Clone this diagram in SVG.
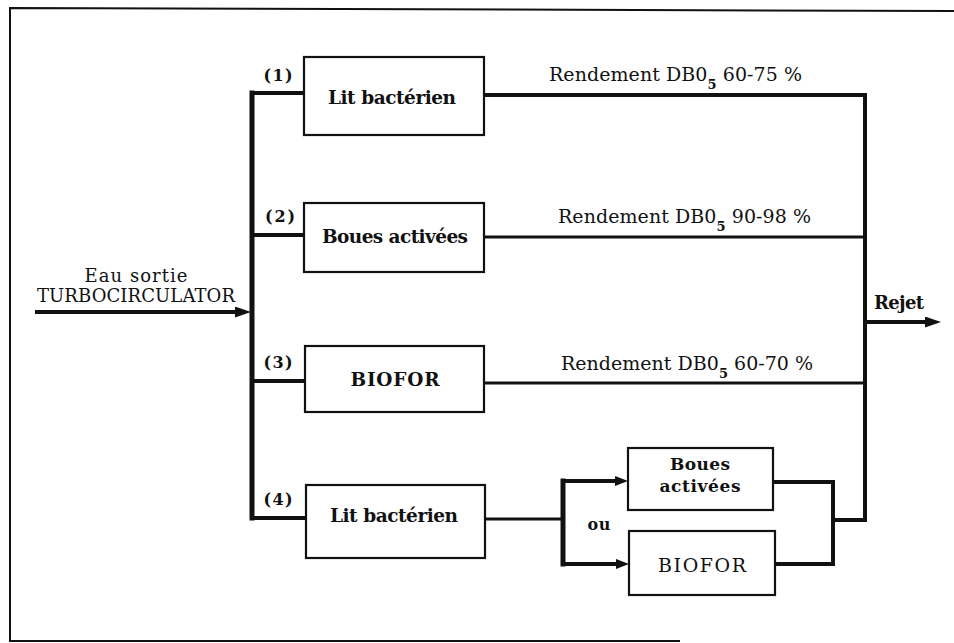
<svg xmlns="http://www.w3.org/2000/svg" width="954" height="643" viewBox="0 0 954 643">
  <style>
    .frame { fill: none; stroke: #111; stroke-width: 2; }
    .box { fill: #fff; stroke: #111; stroke-width: 2.2; }
    .wire { fill: none; stroke: #111; stroke-width: 4; stroke-linecap: square; }
    .thin { stroke-width: 3.2; }
    text { font-family: "DejaVu Serif", "Liberation Serif", serif; fill: #111; }
    .lbl { font-size: 18.5px; font-weight: bold; }
    .lbl2 { font-size: 17px; font-weight: bold; }
    .rd { font-size: 19px; }
    .inflow { font-size: 18px; }
    .num { font-size: 16px; font-weight: bold; }
    .sub { font-size: 13px; font-weight: bold; }
  </style>
  <defs>
    <marker id="head" markerUnits="userSpaceOnUse" markerWidth="16" markerHeight="11" refX="0" refY="5.5" orient="auto">
      <path d="M0,0 L16,5.5 L0,11 z" fill="#111"/>
    </marker>
    <marker id="headSmall" markerUnits="userSpaceOnUse" markerWidth="13" markerHeight="10" refX="0" refY="5" orient="auto">
      <path d="M0,0 L13,5 L0,10 z" fill="#111"/>
    </marker>
  </defs>

  <rect width="954" height="643" fill="#fff"/>

  <!-- page frame, open on the right -->
  <path class="frame" d="M954,11 L10,8 L10,641 L680,641"/>

  <g id="connectors">
    <!-- inflow -->
    <line class="wire" x1="37" y1="312" x2="235" y2="312" marker-end="url(#head)"/>
    <!-- distribution bus -->
    <line class="wire" x1="252" y1="93" x2="252" y2="518" style="stroke-width:5"/>
    <line class="wire" x1="252" y1="93" x2="304" y2="93"/>
    <line class="wire" x1="252" y1="235" x2="304" y2="235"/>
    <line class="wire" x1="252" y1="381" x2="305" y2="381"/>
    <line class="wire" x1="252" y1="518" x2="306" y2="518"/>
    <!-- outlets to collector -->
    <line class="wire" x1="484" y1="95" x2="865" y2="95"/>
    <line class="wire thin" x1="484" y1="237" x2="865" y2="237"/>
    <line class="wire thin" x1="484" y1="383" x2="865" y2="383"/>
    <line class="wire" x1="865" y1="95" x2="865" y2="520"/>
    <!-- discharge -->
    <line class="wire" x1="865" y1="322" x2="925" y2="322" marker-end="url(#head)"/>
    <!-- line (4): secondary stage split -->
    <line class="wire thin" x1="485" y1="519" x2="563" y2="519"/>
    <line class="wire" x1="563" y1="481" x2="563" y2="564" style="stroke-width:5"/>
    <line class="wire" x1="563" y1="481" x2="615" y2="481" marker-end="url(#headSmall)"/>
    <line class="wire" x1="563" y1="564" x2="616" y2="564" marker-end="url(#headSmall)"/>
    <line class="wire" x1="773" y1="482" x2="833" y2="482"/>
    <line class="wire" x1="775" y1="564" x2="833" y2="564"/>
    <line class="wire" x1="833" y1="482" x2="833" y2="564"/>
    <line class="wire" x1="833" y1="520" x2="865" y2="520"/>
  </g>

  <g id="inflow-label">
    <text class="inflow" x="136" y="282" text-anchor="middle" textLength="103" lengthAdjust="spacing">Eau sortie</text>
    <text class="inflow" x="136" y="302" text-anchor="middle" textLength="198" lengthAdjust="spacing">TURBOCIRCULATOR</text>
  </g>

  <g id="line-numbers">
    <text class="num" x="278" y="81" text-anchor="middle" textLength="29" lengthAdjust="spacing">(1)</text>
    <text class="num" x="280" y="222" text-anchor="middle" textLength="30" lengthAdjust="spacing">(2)</text>
    <text class="num" x="278" y="368" text-anchor="middle" textLength="29" lengthAdjust="spacing">(3)</text>
    <text class="num" x="278" y="505" text-anchor="middle" textLength="29" lengthAdjust="spacing">(4)</text>
  </g>

  <g id="lit-bacterien-1">
    <rect class="box" x="304" y="57" width="180" height="78"/>
    <text class="lbl" x="392" y="104" text-anchor="middle" textLength="128" lengthAdjust="spacing">Lit bactérien</text>
  </g>
  <g id="boues-activees-2">
    <rect class="box" x="304" y="203" width="180" height="69"/>
    <text class="lbl" x="395" y="243" text-anchor="middle" textLength="146" lengthAdjust="spacing">Boues activées</text>
  </g>
  <g id="biofor-3">
    <rect class="box" x="305" y="346" width="179" height="66"/>
    <text class="lbl" x="395" y="386" text-anchor="middle" textLength="89" lengthAdjust="spacing">BIOFOR</text>
  </g>
  <g id="lit-bacterien-4">
    <rect class="box" x="306" y="485" width="179" height="73"/>
    <text class="lbl" x="394" y="522" text-anchor="middle" textLength="128" lengthAdjust="spacing">Lit bactérien</text>
  </g>
  <g id="boues-activees-4">
    <rect class="box" x="628" y="448" width="145" height="62"/>
    <text class="lbl2" x="700" y="470" text-anchor="middle" textLength="60" lengthAdjust="spacing">Boues</text>
    <text class="lbl2" x="700" y="492" text-anchor="middle" textLength="81" lengthAdjust="spacing">activées</text>
  </g>
  <g id="biofor-4">
    <rect class="box" x="629" y="531" width="146" height="64"/>
    <text class="rd" x="702" y="572" text-anchor="middle" textLength="88" lengthAdjust="spacing">BIOFOR</text>
  </g>

  <g id="yields">
    <text class="rd" x="549" y="81" textLength="253" lengthAdjust="spacing">Rendement DB0<tspan class="sub" dy="8">5</tspan><tspan dy="-8"> 60-75 %</tspan></text>
    <text class="rd" x="558" y="223" textLength="253" lengthAdjust="spacing">Rendement DB0<tspan class="sub" dy="8">5</tspan><tspan dy="-8"> 90-98 %</tspan></text>
    <text class="rd" x="561" y="370" textLength="252" lengthAdjust="spacing">Rendement DB0<tspan class="sub" dy="8">5</tspan><tspan dy="-8"> 60-70 %</tspan></text>
  </g>

  <text class="num" x="599" y="530" text-anchor="middle" textLength="23" lengthAdjust="spacing">ou</text>
  <text class="lbl2" x="874" y="309" textLength="50" lengthAdjust="spacing" style="font-size:18px">Rejet</text>
</svg>
